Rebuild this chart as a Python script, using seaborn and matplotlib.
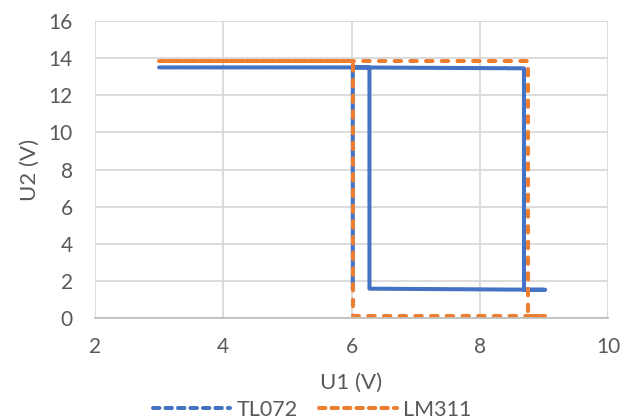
import matplotlib
matplotlib.use("Agg")
import matplotlib.pyplot as plt
from matplotlib.lines import Line2D
import seaborn as sns
import pandas as pd

# Data (path order of the measured hysteresis loops)
tl072_u1 = [3.0, 6.28, 6.28, 9.02, 8.69, 8.69, 6.02, 6.02]
tl072_u2 = [13.5, 13.5, 1.58, 1.52, 1.52, 13.45, 13.5, 1.55]
# LM311: rising sweep and falling sweep (falling listed from low U1 upward)
lm311_up_u1 = [3.0, 8.75, 8.75, 9.02]
lm311_up_u2 = [13.82, 13.82, 0.1, 0.1]
lm311_down_u1 = [3.0, 6.02, 6.02, 9.02]
lm311_down_u2 = [13.82, 13.82, 0.1, 0.1]
series_names = ["TL072", "LM311"]
x_ticks = [2, 4, 6, 8, 10]
y_ticks = [0, 2, 4, 6, 8, 10, 12, 14, 16]

blue = "#4472C4"
orange = "#ED7D31"

sns.set_theme(style="white")
plt.rcParams["font.family"] = ["Lato", "DejaVu Sans"]

df_tl = pd.DataFrame({"U1": tl072_u1, "U2": tl072_u2})
df_up = pd.DataFrame({"U1": lm311_up_u1, "U2": lm311_up_u2})
df_dn = pd.DataFrame({"U1": lm311_down_u1, "U2": lm311_down_u2})

fig = plt.figure(figsize=(6.24, 4.2), dpi=100)
ax = fig.add_axes([95 / 624, 1 - 318 / 420, (608 - 95) / 624, (318 - 21) / 420])

LW = 2.9
ON, OFF = 1.6, 2.3
sns.lineplot(data=df_tl, x="U1", y="U2", sort=False, estimator=None, ax=ax,
             color=blue, linewidth=LW)
sns.lineplot(data=df_up, x="U1", y="U2", sort=False, estimator=None, ax=ax,
             color=orange, linewidth=LW)
sns.lineplot(data=df_dn, x="U1", y="U2", sort=False, estimator=None, ax=ax,
             color=orange, linewidth=LW)

lines = ax.get_lines()
lines[0].set_dashes((5, 0.4))
lines[0].set_dash_capstyle("round")
lines[1].set_linestyle((0, (ON, OFF)))
lines[1].set_dash_capstyle("round")
lines[2].set_linestyle(((ON + OFF) / 2 * LW, (ON, OFF)))
lines[2].set_dash_capstyle("round")

ax.set_xlim(2, 10)
ax.set_ylim(0, 16)
ax.set_xticks(x_ticks)
ax.set_yticks(y_ticks)
ax.grid(True, color="#D9D9D9", linewidth=1.3)
ax.set_axisbelow(True)
for side in ["top", "right", "left"]:
    ax.spines[side].set_visible(False)
ax.spines["bottom"].set_color("#BFBFBF")
ax.spines["bottom"].set_linewidth(1.3)
ax.tick_params(axis="y", labelsize=15, colors="#595959", length=0, pad=16)
ax.tick_params(axis="x", labelsize=15, colors="#595959", length=0, pad=14)
ax.set_xlabel("U1 (V)", fontsize=16, color="#595959", labelpad=11)
ax.set_ylabel("U2 (V)", fontsize=16, color="#595959", labelpad=6)

handles = [
    Line2D([], [], color=blue, linewidth=LW, dashes=(1.6, 1.5), dash_capstyle="round"),
    Line2D([], [], color=orange, linewidth=LW, dashes=(1.6, 1.5), dash_capstyle="round"),
]
leg = fig.legend(handles, series_names, loc="lower center", bbox_to_anchor=(0.5, -0.045),
                 ncol=2, frameon=False, fontsize=15.5, handlelength=3.6,
                 columnspacing=1.0, handletextpad=0.3)
for t in leg.get_texts():
    t.set_color("#595959")

fig.savefig("out.png", dpi=100)
